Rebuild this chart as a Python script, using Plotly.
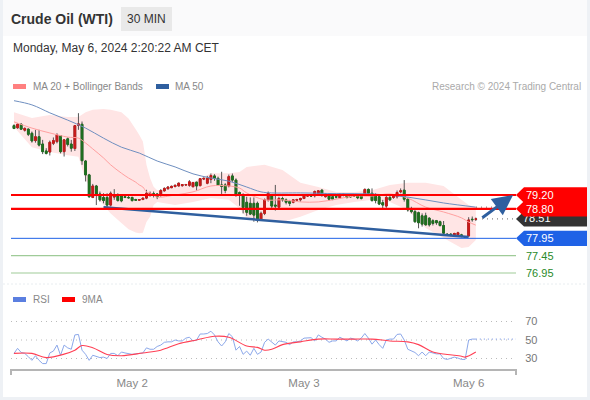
# -*- coding: utf-8 -*-
import plotly.graph_objects as go

#%% chart data ---------------------------------------------------------------
opens = [81.20,81.14,81.24,81.07,81.10,80.98,80.77,80.88,80.67,80.47,
         80.44,80.69,80.74,80.91,80.45,80.82,80.67,80.54,81.21,81.24,
         80.18,79.78,79.13,79.46,79.23,79.13,79.13,78.91,79.14,79.17,
         79.17,79.15,79.13,79.13,79.07,79.05,79.07,79.11,79.21,79.24,
         79.23,79.19,79.32,79.38,79.41,79.44,79.46,79.47,79.49,79.48,
         79.44,79.57,79.47,79.66,79.54,79.65,79.75,79.68,79.49,79.49,
         79.46,79.75,79.63,79.27,79.20,78.99,78.96,78.96,78.96,78.51,
         78.67,79.06,79.20,78.91,78.85,79.10,79.06,79.01,78.99,79.05,
         79.06,79.10,79.17,79.18,79.18,79.22,79.34,79.15,79.17,79.15,
         79.15,79.12,79.20,79.20,79.17,79.18,79.17,79.17,79.20,79.36,
         79.25,79.17,79.15,78.98,78.88,79.13,79.13,79.15,79.29,79.34,
         79.08,78.81,78.72,78.69,78.60,78.60,78.53,78.46,78.46,78.43,
         78.32,78.07,78.07,78.05,78.05,78.05,78.00,78.02,78.50,78.50]
highs = [81.24,81.27,81.27,81.15,81.12,81.03,81.08,81.08,80.79,80.55,
         80.77,80.86,80.98,80.93,80.81,80.86,80.79,81.22,81.56,81.32,
         80.21,79.81,79.52,79.49,79.30,79.25,79.25,79.30,79.37,79.25,
         79.22,79.19,79.17,79.15,79.09,79.08,79.12,79.35,79.30,79.30,
         79.25,79.37,79.42,79.45,79.47,79.50,79.56,79.51,79.52,79.63,
         79.58,79.58,79.68,79.70,79.75,79.82,79.80,79.73,79.87,79.54,
         79.79,79.82,79.68,79.30,79.25,79.15,79.13,79.13,79.01,78.72,
         79.10,79.30,79.23,79.49,79.15,79.15,79.10,79.06,79.08,79.09,
         79.12,79.20,79.20,79.20,79.33,79.34,79.36,79.25,79.19,79.17,
         79.18,79.25,79.24,79.23,79.20,79.21,79.19,79.20,79.39,79.39,
         79.39,79.25,79.17,79.06,79.17,79.17,79.20,79.33,79.39,79.63,
         79.13,78.86,78.77,78.72,78.67,78.69,78.56,78.50,78.48,78.46,
         78.45,78.10,78.10,78.11,78.14,78.08,78.01,78.56,78.58,78.55]
lows = [81.10,81.11,81.08,81.03,80.90,80.71,80.71,80.60,80.38,80.37,
        80.34,80.64,80.69,80.40,80.31,80.60,80.45,80.47,81.08,80.07,
        79.59,79.12,79.11,78.91,79.01,78.96,78.85,78.87,79.06,79.01,
        78.99,79.11,79.10,79.01,79.03,79.03,79.05,79.08,79.15,79.13,
        79.08,79.15,79.30,79.36,79.40,79.43,79.45,79.44,79.46,79.44,
        79.42,79.33,79.45,79.63,79.51,79.54,79.61,79.46,79.23,79.25,
        79.42,79.58,79.15,78.89,78.67,78.60,78.62,78.43,78.41,78.48,
        78.62,79.01,78.82,78.75,78.80,79.01,78.93,78.88,78.96,79.03,
        79.01,79.08,79.15,79.16,79.13,79.20,79.15,79.13,79.04,79.05,
        79.10,79.10,79.16,79.10,79.13,79.15,79.08,79.07,79.18,79.23,
        79.01,78.96,78.91,78.82,78.83,79.03,79.09,79.10,79.25,79.01,
        78.72,78.67,78.40,78.24,78.29,78.32,78.29,78.32,78.34,78.29,
        78.05,78.02,78.01,78.02,78.00,77.98,77.96,78.00,78.43,78.45]
closes = [81.12,81.24,81.10,81.12,80.95,80.76,80.88,80.64,80.45,80.40,
          80.72,80.77,80.93,80.45,80.79,80.66,80.55,81.20,81.25,80.19,
          79.78,79.15,79.46,79.22,79.06,79.04,78.91,79.25,79.17,79.04,
          79.03,79.13,79.12,79.04,79.05,79.07,79.11,79.25,79.25,79.19,
          79.15,79.33,79.39,79.43,79.45,79.48,79.54,79.50,79.50,79.58,
          79.56,79.46,79.67,79.68,79.68,79.76,79.68,79.49,79.45,79.33,
          79.73,79.63,79.22,79.20,78.84,78.70,78.65,78.62,78.51,78.67,
          79.06,79.25,78.88,78.88,79.10,79.06,78.99,78.96,79.06,79.07,
          79.10,79.18,79.18,79.17,79.30,79.32,79.22,79.22,79.08,79.08,
          79.14,79.22,79.22,79.13,79.15,79.17,79.12,79.10,79.36,79.25,
          79.04,79.04,78.94,78.91,79.13,79.06,79.17,79.27,79.32,79.08,
          78.77,78.72,78.43,78.40,78.36,78.34,78.34,78.38,78.40,78.32,
          78.10,78.05,78.04,78.09,78.11,78.02,77.98,78.48,78.49,78.51]

band_x = [0,5,10,15,18,20,22,25,27,30,32,34,35,36,37,38,39,40,45,50,55,60,63,65,70,75,80,85,90,95,100,105,110,115,120,125,127,129]
bb_upper = [81.59,81.42,81.51,81.45,81.45,81.59,81.66,81.68,81.66,81.59,81.41,81.10,80.93,80.74,80.07,79.69,79.44,79.34,79.40,79.57,79.83,79.83,79.86,80.01,
            80.07,79.92,79.55,79.43,79.29,79.29,79.34,79.49,79.55,79.55,79.46,79.06,78.91,78.85]
bb_lower = [81.16,80.58,80.44,80.35,80.30,79.63,79.30,78.91,78.67,78.39,78.21,78.12,78.10,78.11,78.42,78.57,78.91,79.00,78.91,79.00,79.11,79.06,78.82,78.54,
            78.45,78.42,78.57,78.77,78.91,79.00,79.06,79.00,78.77,78.25,77.96,77.67,77.70,77.90]
ma20 = [81.31,81.13,80.99,80.87,80.84,80.70,80.53,80.27,80.07,79.83,79.69,79.57,79.49,79.43,79.29,79.26,79.20,79.14,79.20,79.29,79.46,79.46,79.40,79.26,
        79.06,79.06,79.00,79.00,79.08,79.17,79.17,79.23,79.11,78.85,78.71,78.54,78.42,78.33]

ma50_x = [0,5,10,15,20,25,30,35,40,45,50,55,60,65,69,72,80,90,100,110,120,129]
ma50 = [81.92,81.80,81.57,81.36,81.13,80.84,80.58,80.41,80.18,80.01,79.81,79.69,79.60,79.43,79.29,79.26,79.26,79.24,79.23,79.14,78.97,78.85]

trend_x = [25, 127]
trend_y = [78.85, 77.99]
arrow_x = [130.4, 139.4]
arrow_y = [78.51, 79.20]

resistance = [79.20, 78.80]
last_price = 78.51
support = 77.95
targets = [77.45, 76.95]

rsi = [35.5,41,36.5,35.5,32,28,33,28,24.5,24.5,36,38,44.5,33.5,44.5,41.5,40,55.5,56,39,
       34.5,28,33.5,32,31,31.5,30,35.5,35.5,33,37,36,35,34.5,35,35.5,36,41.5,40,40,
       43,44.5,47.5,48,48,50,49,49,52,53,49,50,56.5,56.5,57,59.5,55.5,48,43.5,48,
       57,53.5,39,43,34.5,38,33.5,41,34.5,37,47.5,51,47.5,44.5,49,48,47.5,45,48,48,
       49,52,52.5,52.5,49,55.5,53,51,47.5,49,49,53,51,49,52,51,49,52,57,52,
       45.5,50,45,41,50,51,51,56,56.5,50,40,38,36.5,33,37,33,37,36,35,35,
       30,29,30,31.5,30.5,29,29,50,51,51]
ma9_x = [0,5,9,14,17,19,22,26,30,36,41,46,51,56,60,65,68,70,72,75,80,85,90,95,100,105,110,113,117,121,125,126,129]
ma9 = [35.5,35.5,31,34.7,39,44,41.6,34.4,33,36,39,46,50,54,53,43.5,42,39,40,45,48,51,51,51,51,49,48,45,37,34.4,32.5,31.5,37]

rsi_levels = [70, 50, 30]
date_idx = [33, 81, 127]
date_labels = ["May 2", "May 3", "May 6"]

#%% helpers ------------------------------------------------------------------
FONT = "Liberation Sans"
def px(x): return x / 590
def py(y): return 1 - y / 400

idx = list(range(len(closes)))
up = "#c81a1a"
down = "#1f6f1f"
blue = "#2f5f9f"
label_half = 0.22   # half height of a price tag, in dollars

shapes = []
annots = []

def rect(x0, y0, x1, y1, color, layer="below"):
    shapes.append(dict(type="rect", xref="paper", yref="paper", x0=px(x0), x1=px(x1), y0=py(y0), y1=py(y1),
                       fillcolor=color, line_width=0, layer=layer))

def text(x, y, s, size=10, color="#888888", anchor="left", bold=False):
    annots.append(dict(xref="paper", yref="paper", x=px(x), y=py(y), text=("<b>%s</b>" % s) if bold else s,
                       showarrow=False, xanchor=anchor, yanchor="middle", borderpad=0, borderwidth=0,
                       font=dict(family=FONT, size=size, color=color)))

def tag(level, color, layer):
    l, m, r = px(516), px(524), px(587)
    t, b = level + label_half, level - label_half
    shapes.append(dict(type="path", xref="paper", yref="y", fillcolor=color, line_width=0, layer=layer,
                       path="M %f,%f L %f,%f L %f,%f L %f,%f L %f,%f Z" % (l, level, m, t, r, t, r, b, m, b)))

def hline(level, color, width, yref="y", dash="solid", x0=11, x1=516, layer="above"):
    shapes.append(dict(type="line", xref="paper", yref=yref, x0=px(x0), x1=px(x1), y0=level, y1=level,
                       line=dict(color=color, width=width, dash=dash), layer=layer))

#%% page frame and header ----------------------------------------------------
rect(0, 0, 590, 36, "#fafafb")
rect(0, 0, 3, 400, "#eef1f5")
rect(587, 0, 590, 400, "#eef1f5")
rect(0, 397, 590, 400, "#eef1f5")
rect(121, 7, 172, 31, "#e9e9e9")
text(11, 19, "Crude Oil (WTI)", 14, "#333333", bold=True)
text(146.5, 19, "30 MIN", 12, "#333333", anchor="center")
text(13, 48.5, "Monday, May 6, 2024 2:20:22 AM CET", 12, "#333333")

rect(13, 84, 26, 89, "#ff8080")
text(33, 86.5, "MA 20 + Bollinger Bands")
rect(156, 84, 169, 89, blue)
text(175, 86.5, "MA 50")
text(581, 86.5, "Research © 2024 Trading Central", 10, "#aaaaaa", anchor="right")

# faint panel divider
shapes.append(dict(type="line", xref="paper", yref="paper", x0=px(3), x1=px(587), y0=py(284), y1=py(284),
                   line=dict(color="#e8edf0", width=1, dash="2px,2px"), layer="below"))

rect(13, 297, 26, 302, "#5b7fe0")
text(33, 299.5, "RSI")
rect(62, 297, 75, 302, "#ff0000")
text(82, 299.5, "9MA")

#%% bollinger band under the candles -----------------------------------------
pts = list(zip(band_x, bb_upper)) + list(zip(band_x[::-1], bb_lower[::-1]))
shapes.append(dict(type="path", xref="x", yref="y", layer="below", fillcolor="#ffe5e5", line_width=0,
                   path="M " + " L ".join("%s,%s" % p for p in pts) + " Z"))

#%% levels and price tags ----------------------------------------------------
hline(targets[0], "#9fcb98", 1.2)
hline(targets[1], "#9fcb98", 1.2)
hline(support, "#1f62e6", 1)
hline(resistance[0], "#ff0000", 2.2)
hline(resistance[1], "#ff0000", 2.2)
hline(last_price, "#666666", 1, dash="1px,4px", x0=482, x1=516)
hline(ma50[-1], "#666666", 1, dash="1px,4px", x0=476, x1=506, layer="below")

tag(last_price, "#333333", "below")
tag(resistance[0], "#ff0000", "above")
tag(resistance[1], "#ff0000", "above")
tag(support, "#1f62e6", "above")

for lv in resistance + [support]:
    annots.append(dict(xref="paper", yref="y", x=px(525), y=lv, text="%.2f" % lv, showarrow=False, xanchor="left",
                       yanchor="middle", borderpad=0, font=dict(family=FONT, size=11, color="#ffffff")))
for lv in targets:
    annots.append(dict(xref="paper", yref="y", x=px(525), y=lv, text="%.2f" % lv, showarrow=False, xanchor="left",
                       yanchor="middle", borderpad=0, font=dict(family=FONT, size=11, color="#2a8a2a")))

annots.append(dict(xref="x", yref="y", axref="x", ayref="y", x=arrow_x[1], y=arrow_y[1], ax=arrow_x[0], ay=arrow_y[0],
                   text="", showarrow=True, arrowhead=2, arrowsize=1.35, arrowwidth=3, arrowcolor=blue))

#%% rsi panel furniture ------------------------------------------------------
for lv in rsi_levels:
    hline(lv, "#bbbbbb", 1, yref="y2", dash="1px,4px", layer="below")
shapes.append(dict(type="path", xref="paper", yref="paper", line=dict(color="#b5b5b5", width=2), layer="below",
                   path="M %f,%f L %f,%f L %f,%f L %f,%f" % (px(11), py(375), px(11), py(370), px(516), py(370), px(516), py(375))))

#%% traces -------------------------------------------------------------------
fig = go.Figure()

# wicks first, then the bodies on top so wicks stay dark
fig.add_trace(go.Candlestick(x=idx, open=opens, high=highs, low=lows, close=closes, yaxis="y", xaxis="x",
                             increasing=dict(line=dict(color="#555555", width=1), fillcolor=up),
                             decreasing=dict(line=dict(color="#555555", width=1), fillcolor=down),
                             whiskerwidth=0, hoverinfo="skip"))
body_hi = [max(o, c) for o, c in zip(opens, closes)]
body_lo = [min(o, c) for o, c in zip(opens, closes)]
fig.add_trace(go.Candlestick(x=idx, open=opens, high=body_hi, low=body_lo, close=closes, yaxis="y", xaxis="x",
                             increasing=dict(line=dict(color=up, width=1), fillcolor=up),
                             decreasing=dict(line=dict(color=down, width=1), fillcolor=down),
                             whiskerwidth=0, hoverinfo="skip"))

fig.add_trace(go.Scatter(x=band_x, y=ma20, mode="lines", line=dict(color="#ffa0a0", width=1, shape="spline")))
fig.add_trace(go.Scatter(x=ma50_x, y=ma50, mode="lines", line=dict(color="#6f8fc0", width=1, shape="spline")))
fig.add_trace(go.Scatter(x=trend_x, y=trend_y, mode="lines", line=dict(color=blue, width=2.5)))

# under the red tags, like the reference
fig.add_trace(go.Scatter(x=[(523 - 14) / 3.58], y=[last_price], mode="text", text=["%.2f" % last_price],
                         textposition="middle right", textfont=dict(family=FONT, size=11, color="#ffffff"),
                         cliponaxis=False))

fig.add_trace(go.Scatter(x=idx, y=rsi, mode="lines", yaxis="y2", xaxis="x", line=dict(color="#8ca8ea", width=1)))
fig.add_trace(go.Scatter(x=[idx[-1], (516 - 14) / 3.58], y=[rsi[-1], rsi[-1]], mode="lines", yaxis="y2", xaxis="x",
                         line=dict(color="#6d8fe6", width=1, dash="1px,3px")))
fig.add_trace(go.Scatter(x=ma9_x, y=ma9, mode="lines", yaxis="y2", xaxis="x",
                         line=dict(color="#ff4055", width=1.1, shape="spline")))

fig.update_layout(
    width=590, height=400, margin=dict(l=0, r=0, t=0, b=0), showlegend=False,
    paper_bgcolor="#ffffff", plot_bgcolor="rgba(0,0,0,0)", shapes=shapes, annotations=annots,
    font=dict(family=FONT),
    xaxis=dict(domain=[0, 1], range=[-14 / 3.58, (590 - 14) / 3.58], anchor="y2", rangeslider=dict(visible=False),
               showgrid=False, zeroline=False, showline=False, tickmode="array", tickvals=date_idx, ticktext=date_labels,
               ticks="outside", ticklen=2, tickcolor="rgba(0,0,0,0)", tickfont=dict(family=FONT, size=11.5, color="#888888")),
    yaxis=dict(domain=[py(285), py(90)], range=[79.20 - 90 / 34.67, 79.20 + 105 / 34.67], visible=False),
    yaxis2=dict(domain=[py(370), py(300)], range=[50 - 30 / 0.925, 50 + 40 / 0.925], anchor="free", position=px(516),
                side="right", showgrid=False, zeroline=False, showline=False, tickmode="array", tickvals=rsi_levels,
                ticks="outside", ticklen=6, tickcolor="rgba(0,0,0,0)", tickfont=dict(family=FONT, size=11, color="#777777")),
)

fig.write_html("out.html", config=dict(displayModeBar=False), post_script="document.body.style.margin='0';")
